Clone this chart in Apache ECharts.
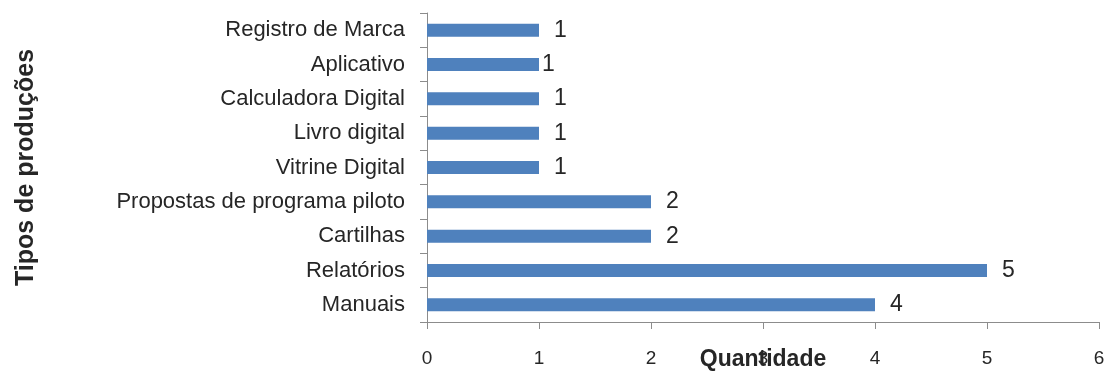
<!DOCTYPE html>
<html>
<head>
<meta charset="utf-8">
<script src="https://cdn.jsdelivr.net/npm/echarts@6/dist/echarts.min.js"></script>
<style>
  html, body { margin: 0; padding: 0; background: #fff; }
  #chart { width: 1112px; height: 372px; }
</style>
</head>
<body>
<div id="chart"></div>
<script>
// categorias de baixo para cima (ordem do eixo y)
var categories = ['Manuais', 'Relatórios', 'Cartilhas', 'Propostas de programa piloto',
  'Vitrine Digital', 'Livro digital', 'Calculadora Digital', 'Aplicativo', 'Registro de Marca'];
var quantidade = [4, 5, 2, 2, 1, 1, 1, 1, 1];
var xTicks = [0, 1, 2, 3, 4, 5, 6];

var chart = echarts.init(document.getElementById('chart'), null, { renderer: 'canvas' });

var textColor = '#262626';
var axisColor = '#8c8c8c';

// no original o rótulo de "Aplicativo" fica colado na barra
var barData = quantidade.map(function (v, i) {
  if (categories[i] === 'Aplicativo') {
    return { value: v, label: { distance: 3 } };
  }
  return v;
});

chart.setOption({
  animation: false,
  backgroundColor: '#fff',
  textStyle: { fontFamily: 'Liberation Sans, Arial, sans-serif' },
  grid: { left: 427, right: 13, top: 13, bottom: 50, outerBoundsMode: 'none' },
  xAxis: {
    type: 'value',
    min: xTicks[0],
    max: xTicks[xTicks.length - 1],
    interval: 1,
    name: 'Quantidade',
    nameLocation: 'middle',
    nameGap: 26,
    nameMoveOverlap: false,
    nameTextStyle: { fontSize: 23, fontWeight: 'bold', color: textColor, verticalAlign: 'top' },
    axisLine: { show: true, lineStyle: { color: axisColor, width: 1 } },
    axisTick: { show: true, length: 7, lineStyle: { color: axisColor } },
    axisLabel: { fontSize: 19, color: textColor, margin: 27 },
    splitLine: { show: false }
  },
  yAxis: {
    type: 'category',
    data: categories,
    name: 'Tipos de produções',
    nameLocation: 'middle',
    nameGap: 388,
    nameRotate: 90,
    nameMoveOverlap: false,
    nameTextStyle: { fontSize: 25, fontWeight: 'bold', color: textColor },
    axisLine: { show: true, lineStyle: { color: axisColor, width: 1 } },
    axisTick: { show: true, length: 7, inside: false, lineStyle: { color: axisColor } },
    axisLabel: { fontSize: 22, color: textColor, margin: 22 }
  },
  series: [{
    type: 'bar',
    data: barData,
    barWidth: 13,
    itemStyle: { color: '#4f81bd' },
    label: {
      show: true,
      position: 'right',
      distance: 15,
      fontSize: 23,
      color: textColor
    }
  }]
});
</script>
</body>
</html>
